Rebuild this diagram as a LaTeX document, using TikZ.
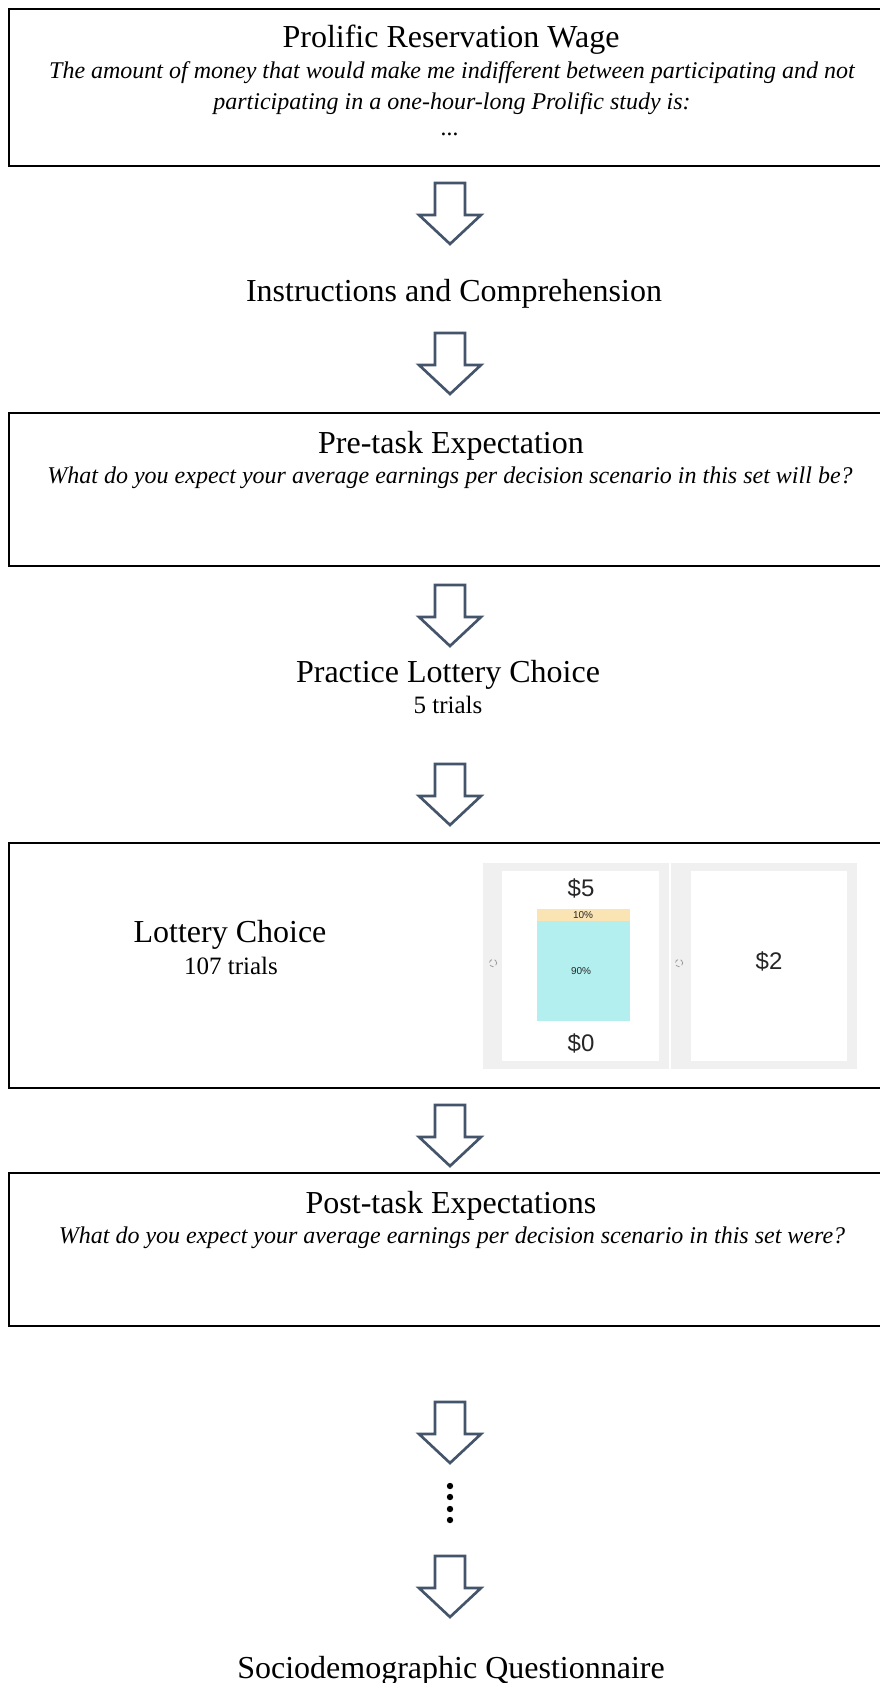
\documentclass[tikz,border=0pt]{standalone}
\usepackage{fontspec}
\setmainfont{Liberation Serif}
\newfontfamily\lotfont{Liberation Sans}
\usetikzlibrary{calc}

\definecolor{arrowblue}{HTML}{44546A}
\definecolor{panelgray}{HTML}{F0F0F0}
\definecolor{lotorange}{HTML}{FBE4B4}
\definecolor{lotcyan}{HTML}{B4EFEF}

\newcommand{\blockarrow}[1]{%
  \draw[blockarr] (#1) ++(-15,0) -- ++(30,0) -- ++(0,32) -- ++(16,0)
    -- ++(-31,29) -- ++(-31,-29) -- ++(16,0) -- cycle;}

\begin{document}
\begin{tikzpicture}[x=0.75pt, y=-0.75pt,
  box/.style={draw, line width=1.6pt, minimum width=663pt, inner sep=0pt},
  ttl/.style={anchor=base, inner sep=0pt, font=\fontsize{24}{28}\selectfont},
  qst/.style={anchor=base, inner sep=0pt, font=\fontsize{18}{21}\selectfont\itshape},
  sub/.style={anchor=base, inner sep=0pt, font=\fontsize{18.75}{22}\selectfont},
  blockarr/.style={draw=arrowblue, line width=2pt, fill=white},
  dot/.style={circle, fill=black, inner sep=0pt, minimum size=4.8pt},
  money/.style={inner sep=0pt, font=\lotfont\fontsize{18}{20}\selectfont, text=black!85},
  pct/.style={inner sep=0pt, font=\lotfont\fontsize{7.5}{8}\selectfont, text=black!85},
  radio/.style={circle, draw=gray!80, densely dashed, line width=0.6pt, inner sep=0pt, minimum size=5.5pt}]

  \useasboundingbox (0,0) rectangle (880,1683);

  % stage boxes
  \node [box, minimum height=117.75pt] (wage) at (451,87.5) {};
  \node [box, minimum height=114.75pt] (pre)  at (451,489.5) {};
  \node [box, minimum height=183.75pt] (lot)  at (451,965.5) {};
  \node [box, minimum height=114.75pt] (post) at (451,1249.5) {};

  % texts
  \node [ttl] (wagettl) at (451,48) {Prolific Reservation Wage};
  \node [qst] (wageq1) at (452,79) {The amount of money that would make me indifferent between participating and not};
  \node [qst] (wageq2) at (452,110) {participating in a one-hour-long Prolific study is:};
  \node [qst] (wageq3) at (450,136) {...};
  \node [ttl] (instr) at (454,301) {Instructions and Comprehension};
  \node [ttl] (prettl) at (451,453) {Pre-task Expectation};
  \node [qst] (preq) at (450,483) {What do you expect your average earnings per decision scenario in this set will be?};
  \node [ttl] (prac) at (448,682) {Practice Lottery Choice};
  \node [sub] (pracn) at (448,713) {5 trials};
  \node [ttl] (lotttl) at (230,942) {Lottery Choice};
  \node [sub] (lotn) at (231,974) {107 trials};
  \node [ttl] (postttl) at (451,1213) {Post-task Expectations};
  \node [qst] (postq) at (452,1243) {What do you expect your average earnings per decision scenario in this set were?};
  \node [ttl] (socio) at (451,1678) {Sociodemographic Questionnaire};

  % lottery screen
  \fill [panelgray] (483,863) rectangle (669,1069);
  \fill [panelgray] (671,863) rectangle (857,1069);
  \fill [white] (502,871) rectangle (659,1061);
  \fill [white] (691,871) rectangle (847,1061);
  \fill [lotorange] (537,909) rectangle (630,921);
  \fill [lotcyan] (537,921) rectangle (630,1021);
  \node [money] (win) at (581,888) {\$5};
  \node [money] (lose) at (581,1043) {\$0};
  \node [money] (safe) at (769,961) {\$2};
  \node [pct] (phigh) at (583,915) {10\%};
  \node [pct] (plow) at (581,971) {90\%};
  \node [radio] (r1) at (493,963) {};
  \node [radio] (r2) at (679,963) {};

  % arrows
  \coordinate (a1) at (450,183);
  \coordinate (a2) at (450,333);
  \coordinate (a3) at (450,585);
  \coordinate (a4) at (450,764);
  \coordinate (a5) at (450,1105);
  \coordinate (a6) at (450,1402);
  \coordinate (a7) at (450,1556);
  \foreach \a in {a1,a2,a3,a4,a5,a6,a7} {\blockarrow{\a}}

  % dots
  \foreach \i/\y in {1/1486,2/1497,3/1509,4/1520}
    \node [dot] (d\i) at (450,\y) {};
\end{tikzpicture}
\end{document}
